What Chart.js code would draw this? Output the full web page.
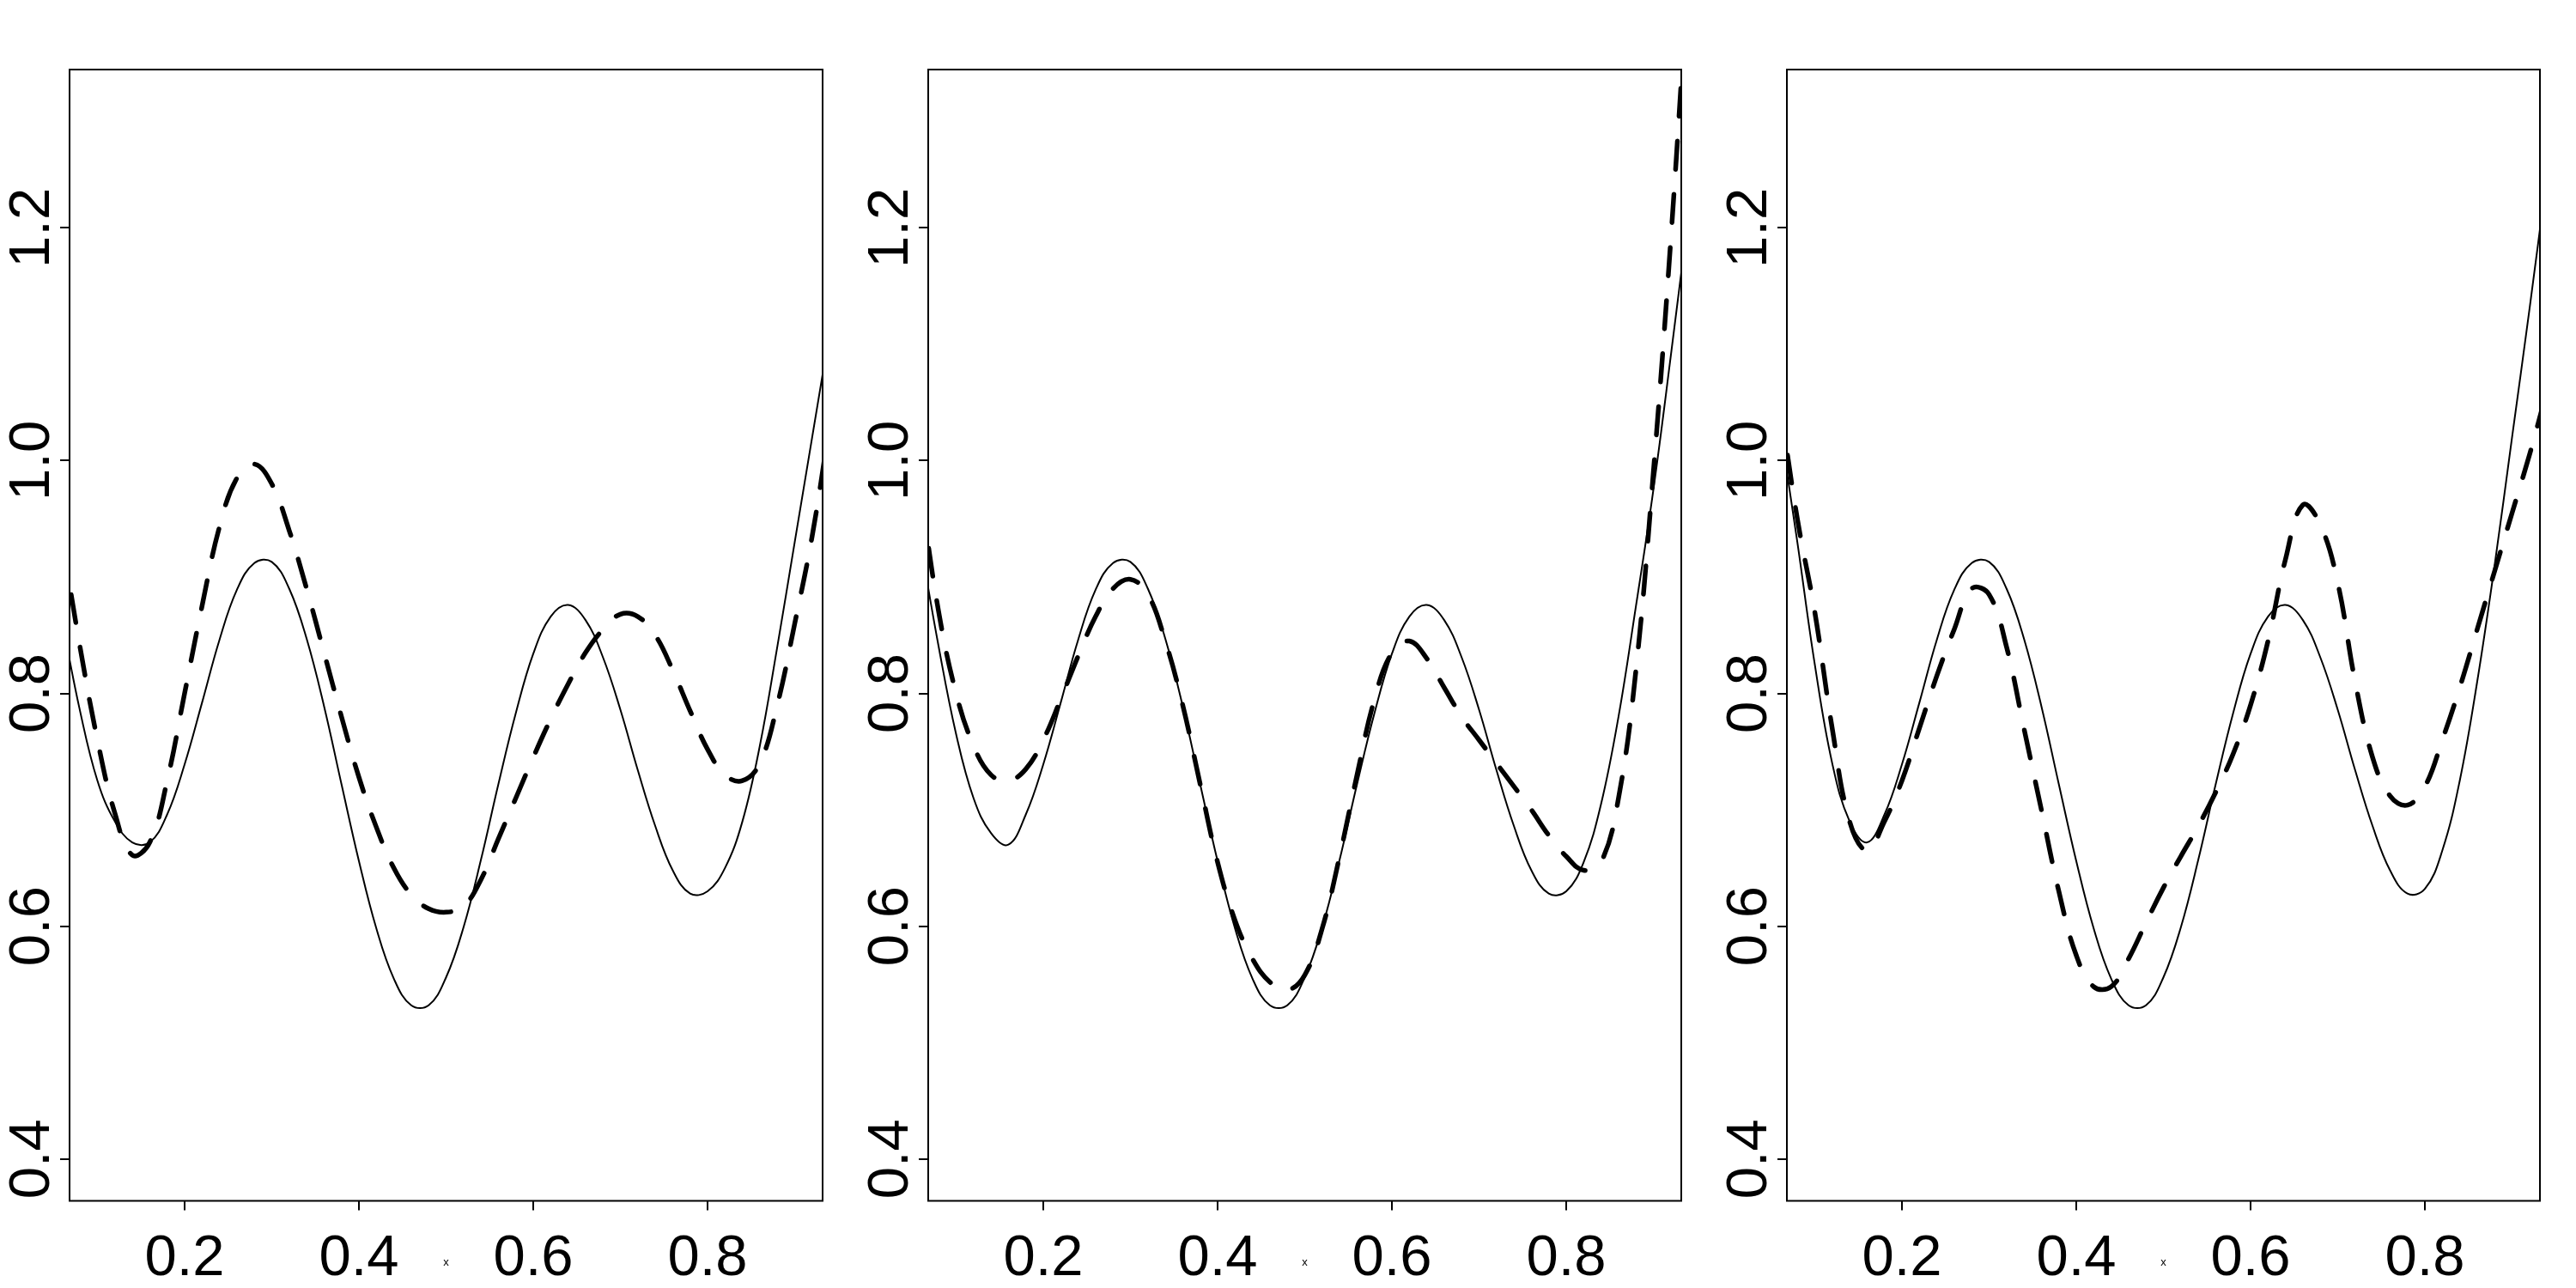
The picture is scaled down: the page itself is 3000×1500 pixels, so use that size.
<!DOCTYPE html>
<html>
<head>
<meta charset="utf-8">
<script src="https://cdn.jsdelivr.net/npm/chart.js@4.4.1/dist/chart.umd.min.js"></script>
<style>
  html, body { margin: 0; padding: 0; background: #fff; }
  #wrap { position: relative; width: 3000px; height: 1500px; }
  canvas { position: absolute; top: 0; }
</style>
</head>
<body>
<div id="wrap">
  <canvas id="panel1" width="1000" height="1500" style="left:0px"></canvas>
  <canvas id="panel2" width="1000" height="1500" style="left:1000px"></canvas>
  <canvas id="panel3" width="1000" height="1500" style="left:2000px"></canvas>
</div>
<script>
// shared x grid
const xGrid = [0.06,0.08,0.10,0.12,0.14,0.16,0.18,0.20,0.22,0.24,0.26,0.28,0.30,0.32,0.34,0.36,0.38,0.40,0.42,0.44,0.46,0.48,0.50,0.52,0.54,0.56,0.58,0.60,0.62,0.64,0.66,0.68,0.70,0.72,0.74,0.76,0.78,0.80,0.82,0.84,0.86,0.88,0.90,0.92,0.94];

const xTicks = [0.2, 0.4, 0.6, 0.8];
const yTicks = [0.4, 0.6, 0.8, 1.0, 1.2];

// panel 1
const solid1 = [0.86,0.785,0.725,0.69,0.672,0.672,0.696,0.739,0.792,0.846,0.889,0.912,0.913,0.89,0.847,0.789,0.722,0.656,0.598,0.555,0.532,0.532,0.556,0.599,0.657,0.722,0.783,0.834,0.866,0.876,0.863,0.831,0.786,0.734,0.686,0.648,0.628,0.63,0.65,0.69,0.755,0.84,0.93,1.02,1.11];
const dashed1 = [0.93,0.84,0.76,0.697,0.661,0.672,0.725,0.80,0.875,0.943,0.985,0.997,0.98,0.94,0.89,0.835,0.78,0.728,0.685,0.65,0.627,0.615,0.612,0.617,0.64,0.675,0.71,0.745,0.778,0.808,0.835,0.855,0.868,0.866,0.85,0.82,0.785,0.752,0.73,0.725,0.74,0.79,0.86,0.935,1.03];

// panel 2
const solid2 = [0.925,0.84,0.765,0.71,0.68,0.67,0.696,0.739,0.792,0.846,0.889,0.912,0.913,0.89,0.847,0.789,0.722,0.656,0.598,0.555,0.532,0.532,0.556,0.599,0.657,0.722,0.783,0.834,0.866,0.876,0.863,0.831,0.786,0.734,0.686,0.648,0.628,0.63,0.655,0.705,0.78,0.875,0.975,1.09,1.21];
const dashed2 = [0.97,0.87,0.80,0.755,0.73,0.725,0.735,0.76,0.795,0.832,0.866,0.89,0.898,0.885,0.845,0.79,0.722,0.655,0.605,0.572,0.552,0.545,0.558,0.598,0.66,0.73,0.795,0.835,0.845,0.83,0.805,0.78,0.76,0.74,0.72,0.70,0.678,0.66,0.648,0.655,0.71,0.82,0.99,1.19,1.42];

// panel 3
const solid3 = [1.03,0.93,0.825,0.74,0.69,0.672,0.696,0.739,0.792,0.846,0.889,0.912,0.913,0.89,0.847,0.789,0.722,0.656,0.598,0.555,0.532,0.532,0.556,0.599,0.657,0.722,0.783,0.834,0.866,0.876,0.863,0.831,0.786,0.734,0.686,0.648,0.628,0.632,0.665,0.725,0.81,0.91,1.02,1.13,1.245];
const dashed3 = [1.05,0.95,0.87,0.77,0.69,0.665,0.69,0.725,0.77,0.815,0.855,0.89,0.885,0.84,0.77,0.70,0.63,0.575,0.548,0.548,0.572,0.603,0.633,0.66,0.686,0.715,0.748,0.79,0.845,0.915,0.962,0.945,0.895,0.81,0.745,0.712,0.704,0.72,0.76,0.805,0.855,0.905,0.955,1.005,1.06];

const FONT = '"Liberation Sans", Arial, Helvetica, sans-serif';

// box, tick labels and the small x label, drawn after the chart
const framePlugin = {
    id: 'frame',
    afterDraw(chart) {
        const ctx = chart.ctx;
        const a = chart.chartArea;
        const xs = chart.scales.x;
        const ys = chart.scales.y;
        ctx.save();
        ctx.strokeStyle = '#000';
        ctx.lineWidth = 2;
        ctx.strokeRect(a.left, a.top, a.right - a.left, a.bottom - a.top);

        ctx.fillStyle = '#000';
        ctx.font = '67px ' + FONT;
        ctx.textAlign = 'center';
        ctx.textBaseline = 'alphabetic';
        xTicks.forEach(function(v) {
            ctx.fillText(v.toFixed(1), xs.getPixelForValue(v), a.bottom + 86.5);
        });
        yTicks.forEach(function(v) {
            ctx.save();
            ctx.translate(a.left - 24, ys.getPixelForValue(v));
            ctx.rotate(-Math.PI / 2);
            ctx.fillText(v.toFixed(1), 0, 0);
            ctx.restore();
        });

        ctx.font = '13px ' + FONT;
        ctx.fillText('x', (a.left + a.right) / 2, a.bottom + 75);
        ctx.restore();
    }
};

function makePanel(id, solid, dashed) {
    const ctx = document.getElementById(id);
    new Chart(ctx, {
        type: 'line',
        data: {
            datasets: [
                {
                    label: 'true',
                    data: xGrid.map(function(x, i) { return { x: x, y: solid[i] }; }),
                    borderColor: '#000',
                    borderWidth: 2,
                    pointRadius: 0,
                    tension: 0.4,
                    clip: 0
                },
                {
                    label: 'estimate',
                    data: xGrid.map(function(x, i) { return { x: x, y: dashed[i] }; }),
                    borderColor: '#000',
                    borderWidth: 5.5,
                    borderDash: [33, 29],
                    borderCapStyle: 'round',
                    pointRadius: 0,
                    tension: 0.4,
                    clip: 0
                }
            ]
        },
        options: {
            responsive: false,
            animation: false,
            devicePixelRatio: 1,
            layout: { padding: { left: 0, top: 81, right: 42, bottom: 0 } },
            plugins: {
                legend: { display: false },
                tooltip: { enabled: false }
            },
            scales: {
                x: {
                    type: 'linear',
                    min: 0.068,
                    max: 0.932,
                    afterBuildTicks: function(s) { s.ticks = xTicks.map(function(v) { return { value: v }; }); },
                    afterFit: function(s) { s.height = 101.5; },
                    ticks: { display: false },
                    border: { display: false },
                    grid: { drawOnChartArea: false, drawTicks: true, tickLength: 11, color: '#000', lineWidth: 2 }
                },
                y: {
                    min: 0.364,
                    max: 1.336,
                    afterBuildTicks: function(s) { s.ticks = yTicks.map(function(v) { return { value: v }; }); },
                    afterFit: function(s) { s.width = 81; },
                    ticks: { display: false },
                    border: { display: false },
                    grid: { drawOnChartArea: false, drawTicks: true, tickLength: 11, color: '#000', lineWidth: 2 }
                }
            }
        },
        plugins: [framePlugin]
    });
}

document.addEventListener('DOMContentLoaded', function() {
    makePanel('panel1', solid1, dashed1);
    makePanel('panel2', solid2, dashed2);
    makePanel('panel3', solid3, dashed3);
});
</script>
</body>
</html>
